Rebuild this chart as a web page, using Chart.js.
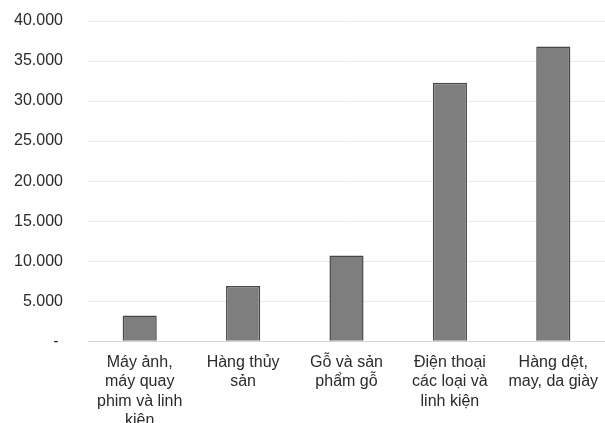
<!DOCTYPE html>
<html lang="vi">
<head>
    <meta charset="UTF-8">
    <title>Xuất khẩu theo nhóm hàng</title>
    <script src="https://cdn.jsdelivr.net/npm/chart.js"></script>
    <style>
        html, body {
            margin: 0;
            padding: 0;
            background: #fff;
            overflow: hidden;
        }
        #wrap {
            width: 605px;
            height: 423px;
        }
    </style>
</head>
<body>
<div id="wrap">
    <canvas id="exportChart"></canvas>
</div>
<script>
    // Nhóm hàng (nhãn trục X, mỗi dòng một phần tử)
    const categories = [
        ['Máy ảnh,', 'máy quay', 'phim và linh', 'kiện'],
        ['Hàng thủy', 'sản'],
        ['Gỗ và sản', 'phẩm gỗ'],
        ['Điện thoại', 'các loại và', 'linh kiện'],
        ['Hàng dệt,', 'may, da giày']
    ];

    // Giá trị ước
    const values = [3200, 6900, 10700, 32300, 36800];

    // Trục Y
    const yMin = 0;
    const yMax = 40000;
    const yStep = 5000;

    function fmt(v) {
        if (v === 0) return '- ';
        return String(v).replace(/\B(?=(\d{3})+(?!\d))/g, '.');
    }

    const ctx = document.getElementById('exportChart').getContext('2d');
    new Chart(ctx, {
        type: 'bar',
        data: {
            labels: categories,
            datasets: [{
                data: values,
                backgroundColor: '#7e7e7e',
                borderColor: '#464646',
                borderWidth: 1.5,
                barPercentage: 0.33,
                categoryPercentage: 1
            }]
        },
        options: {
            responsive: true,
            maintainAspectRatio: false,
            animation: false,
            layout: {
                padding: { top: 21, left: 10, right: 0, bottom: -11 }
            },
            plugins: {
                legend: { display: false },
                tooltip: { enabled: false }
            },
            scales: {
                x: {
                    grid: { display: false },
                    border: { display: true, color: '#d4d4d4', width: 1 },
                    ticks: {
                        color: '#2b2b2b',
                        font: { family: '"Liberation Sans", Arial, sans-serif', size: 16, lineHeight: 1.2 },
                        padding: 4,
                        maxRotation: 0,
                        autoSkip: false
                    }
                },
                y: {
                    min: yMin,
                    max: yMax,
                    afterFit: function(scale) {
                        // nhãn trục Y sát lề trái, sát mép trên như bản gốc
                        scale.width = 78;
                        scale.paddingTop = 0;
                    },
                    grid: {
                        color: '#ebebeb',
                        drawTicks: false
                    },
                    border: { display: false },
                    ticks: {
                        stepSize: yStep,
                        color: '#2b2b2b',
                        font: { family: '"Liberation Sans", Arial, sans-serif', size: 16 },
                        padding: 25,
                        callback: fmt
                    }
                }
            }
        }
    });
</script>
</body>
</html>
